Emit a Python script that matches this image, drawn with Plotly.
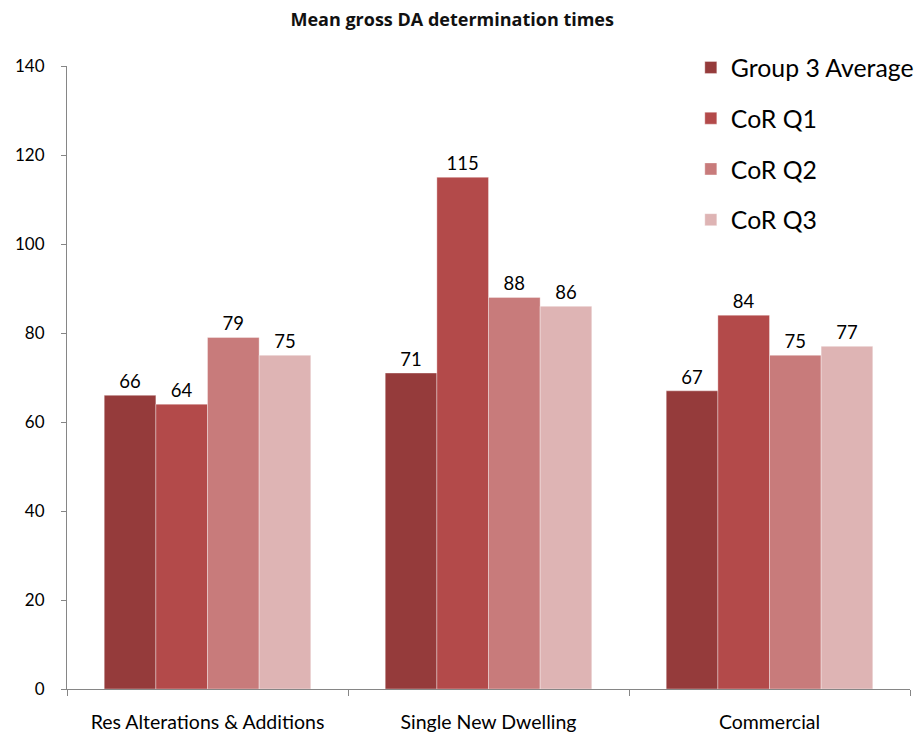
import plotly.graph_objects as go

categories = ["Res Alterations & Additions", "Single New Dwelling", "Commercial"]
series_names = ["Group 3 Average", "CoR Q1", "CoR Q2", "CoR Q3"]
group3_avg = [66, 71, 67]
cor_q1 = [64, 115, 84]
cor_q2 = [79, 88, 75]
cor_q3 = [75, 86, 77]
colors = ["#953B3B", "#B34A4A", "#C87B7B", "#DEB4B4"]

fig = go.Figure()
for i, (name, vals) in enumerate(zip(series_names, [group3_avg, cor_q1, cor_q2, cor_q3])):
    fig.add_trace(go.Bar(
        x=categories, y=vals, name=name,
        marker=dict(color=colors[i], line=dict(color="rgba(255,255,255,0.35)", width=1)),
        text=[str(v) for v in vals], textposition="outside",
        textfont=dict(size=18.5, color="#000000", family="Lato"),
        cliponaxis=False, legendgroup=name,
    ))

fig.update_layout(
    width=914, height=727,
    barmode="group", bargap=0.265, bargroupgap=0,
    plot_bgcolor="white", paper_bgcolor="white",
    margin=dict(l=59, r=12, t=58, b=46, autoexpand=False),
    font=dict(family="Lato", size=18, color="#000000"),
    title=dict(text="<b>Mean gross DA determination times</b>", x=0.486, xanchor="center",
               y=0.9835, yanchor="middle", font=dict(size=18, family="Open Sans", color="#111111")),
    legend=dict(x=0.740, y=1.034, xanchor="left", yanchor="top",
                font=dict(size=24.8, family="Lato"), traceorder="grouped",
                tracegroupgap=15.5, bgcolor="rgba(0,0,0,0)"),
    xaxis=dict(showline=True, linecolor="#868686", linewidth=1, ticks="outside",
               tickson="boundaries", ticklen=6, tickcolor="#868686", automargin=False,
               tickfont=dict(size=19.5), ticklabelstandoff=16, showgrid=False),
    yaxis=dict(range=[0, 140], dtick=20, showline=True, linecolor="#868686", linewidth=1,
               ticks="outside", ticklen=5, tickcolor="#868686", showgrid=False, automargin=False,
               zeroline=False, tickfont=dict(size=17), ticklabelstandoff=13),
)

fig.write_html("out.html")
